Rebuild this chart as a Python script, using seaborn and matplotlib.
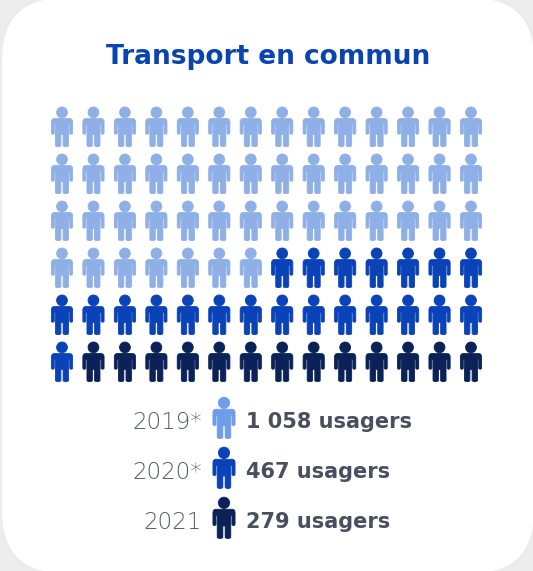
import numpy as np
import pandas as pd
import matplotlib
matplotlib.use("Agg")
import matplotlib.pyplot as plt
from matplotlib.patches import FancyBboxPatch
from matplotlib.path import Path
import seaborn as sns

title = "Transport en commun"
years = ["2019*", "2020*", "2021"]
usagers = ["1 058 usagers", "467 usagers", "279 usagers"]
icon_counts = [49, 22, 13]  # un pictogramme = environ 21,5 usagers
n_cols = 14
n_rows = 6

waffle_colors = ["#8FB0E6", "#0A42B8", "#0A2258"]
legend_colors = ["#6F9DEA", "#0A42B8", "#0A2258"]
text_color = "#4A4F60"
title_color = "#0A44B0"
bg_color = "#ECECED"


def person_marker():
    # silhouette: tete + corps, y vers le haut
    head = Path.circle((0, 0.73), 0.27)
    L, C = Path.LINETO, Path.CURVE3
    segs = [
        (Path.MOVETO, (-0.38, 0.42)), (C, (-0.53, 0.42)), (C, (-0.53, 0.26)),
        (L, (-0.53, -0.30)), (C, (-0.53, -0.36)), (C, (-0.46, -0.36)),
        (C, (-0.385, -0.36)), (C, (-0.385, -0.30)), (L, (-0.385, 0.12)),
        (L, (-0.325, 0.12)), (L, (-0.325, -0.92)), (C, (-0.325, -0.98)),
        (C, (-0.19, -0.98)), (C, (-0.055, -0.98)), (C, (-0.055, -0.92)),
        (L, (-0.055, -0.38)), (L, (0.055, -0.38)), (L, (0.055, -0.92)),
        (C, (0.055, -0.98)), (C, (0.19, -0.98)), (C, (0.325, -0.98)),
        (C, (0.325, -0.92)), (L, (0.325, 0.12)), (L, (0.385, 0.12)),
        (L, (0.385, -0.30)), (C, (0.385, -0.36)), (C, (0.46, -0.36)),
        (C, (0.53, -0.36)), (C, (0.53, -0.30)), (L, (0.53, 0.26)),
        (C, (0.53, 0.42)), (C, (0.38, 0.42)), (Path.CLOSEPOLY, (-0.38, 0.42)),
    ]
    codes = [s[0] for s in segs]
    pts = [s[1] for s in segs]
    return Path.make_compound_path(head, Path(pts, codes))


sns.set_theme(style="white")
plt.rcParams["font.family"] = ["DejaVu Sans"]

fig = plt.figure(figsize=(5.33, 5.71), dpi=100, facecolor=bg_color)

# fond + carte blanche, en pixels
bg = fig.add_axes([0, 0, 1, 1])
bg.add_patch(FancyBboxPatch((2, -2), 532, 575, boxstyle="round,pad=0,rounding_size=62",
                            fc="white", ec="none"))
bg.text(268.5, 57, title, color=title_color, fontsize=19, fontweight="bold",
        ha="center", va="center")

# grille de pictogrammes
marker = person_marker()
groups = np.repeat(years, icon_counts)
waffle = pd.DataFrame({
    "col": np.tile(np.arange(n_cols), n_rows),
    "row": np.repeat(np.arange(n_rows), n_cols),
    "year": groups,
})
left, right = 62 - 31.46 / 2, 471 + 31.46 / 2
top, bottom = 127 - 23.5, 362 + 23.5
ax = fig.add_axes([left / 533, 1 - bottom / 571, (right - left) / 533, (bottom - top) / 571])
sns.scatterplot(data=waffle, x="col", y="row", hue="year", hue_order=years,
                palette=waffle_colors, marker=marker, s=830, linewidth=0.6,
                edgecolor="face", legend=False, ax=ax)
ax.set_xlim(-0.5, n_cols - 0.5)
ax.set_ylim(n_rows - 0.5, -0.5)
ax.axis("off")

# legende
leg = pd.DataFrame({"x": [224, 224, 224], "y": [418, 468, 518], "year": years})
sns.scatterplot(data=leg, x="x", y="y", hue="year", hue_order=years,
                palette=legend_colors, marker=marker, s=900, linewidth=0.6,
                edgecolor="face", legend=False, ax=bg)
bg.set_xlim(0, 533)
bg.set_ylim(571, 0)
bg.axis("off")
for i, yr in enumerate(years):
    y = leg["y"][i] + 4.5
    bg.text(202, y, yr, color="#555A6A", fontsize=16.5, fontweight="light",
            ha="right", va="center")
    bg.text(246, y, usagers[i], color=text_color, fontsize=15, fontweight="bold",
            ha="left", va="center")

fig.savefig("out.png", dpi=100)
